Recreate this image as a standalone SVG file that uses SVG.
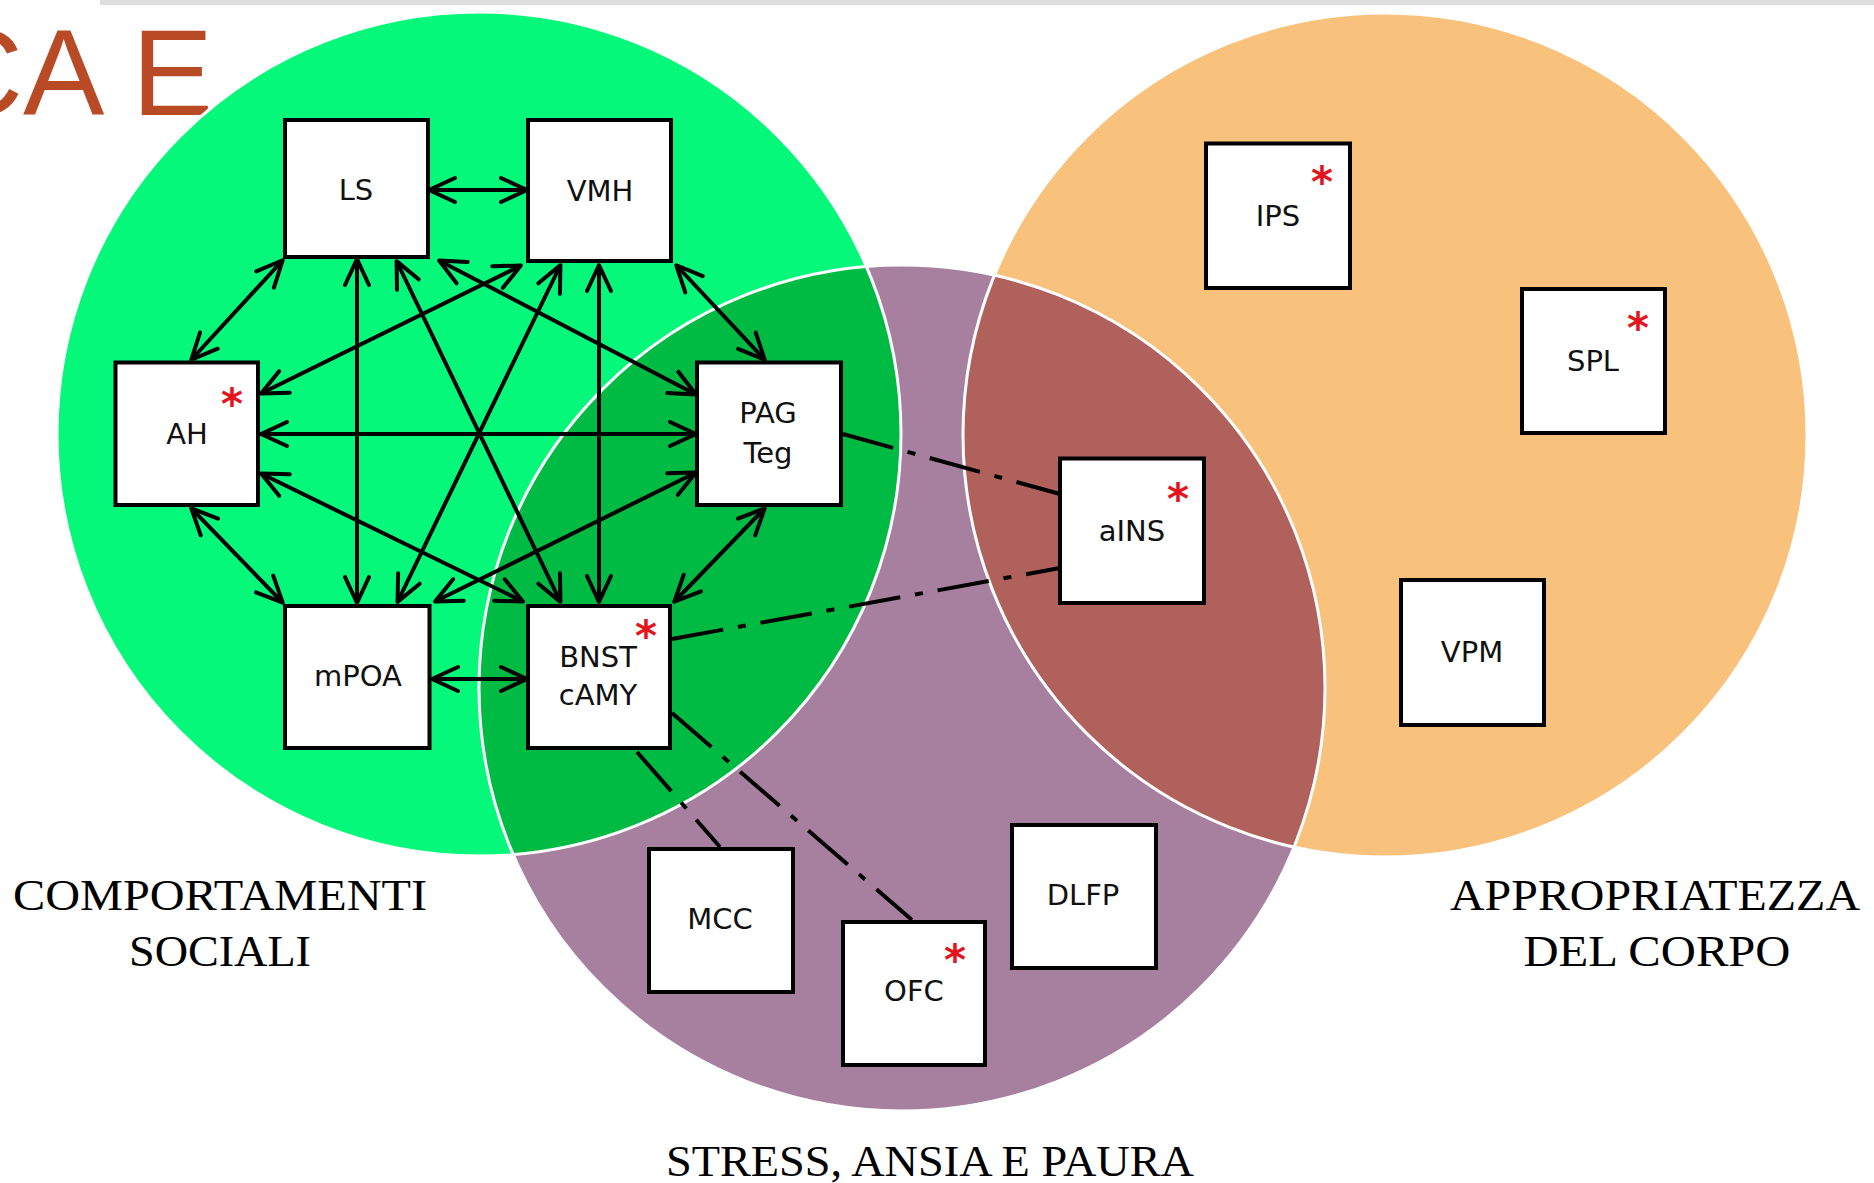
<svg xmlns="http://www.w3.org/2000/svg" width="1874" height="1183" viewBox="0 0 1874 1183">
<style>
.box{fill:#fff;stroke:#000;stroke-width:4}
.lbl{font-family:"DejaVu Sans",sans-serif;font-size:29px;fill:#111;text-anchor:middle}
.star{font-family:"DejaVu Sans",sans-serif;font-size:42px;font-weight:bold;fill:#e3141c;text-anchor:middle}
.arr{fill:none;stroke:#000;stroke-width:4;marker-start:url(#ah);marker-end:url(#ah)}
.dd{fill:none;stroke:#000;stroke-width:4;stroke-dasharray:52 15 8 15}
.cap{font-family:"Liberation Serif","Times New Roman",serif;font-size:44px;fill:#000;text-anchor:middle}
.edge{fill:none;stroke:#fff;stroke-width:3}
</style>
<defs>
<marker id="ah" markerUnits="userSpaceOnUse" viewBox="0 0 30 28" refX="26" refY="14" markerWidth="30" markerHeight="28" orient="auto-start-reverse" overflow="visible">
<path d="M1,2 L27,14 L1,26" fill="none" stroke="#000" stroke-width="4" stroke-linejoin="round" stroke-linecap="round"/>
</marker>
</defs>
<rect width="1874" height="1183" fill="#fff"/>
<rect x="100" y="0" width="1774" height="5" fill="#dedede"/>
<text x="213" y="115" font-family="Liberation Sans,Arial,sans-serif" font-size="122" fill="#b84b26" text-anchor="end">CA E</text>
<g id="regions">
<circle cx="479" cy="434" r="422" fill="#05f87a"/>
<circle cx="1385" cy="435" r="422" fill="#f8c27c"/>
<circle cx="902" cy="688" r="423" fill="#a77f9f"/>
<path d="M866.3,266.4 A422,422 0 0 1 513.1,854.6 A423,423 0 0 1 866.3,266.4 Z" fill="#00bb43"/>
<path d="M994.4,275.2 A423,423 0 0 1 1294,847 A422,422 0 0 1 994.4,275.2 Z" fill="#b0615b"/>
<circle class="edge" cx="479" cy="434" r="422"/>
<circle class="edge" cx="1385" cy="435" r="422"/>
<circle class="edge" cx="902" cy="688" r="423"/>
</g>
<g id="connectors">
<line class="arr" x1="430" y1="190" x2="526" y2="190"/>
<line class="arr" x1="282" y1="261" x2="192" y2="359"/>
<line class="arr" x1="357" y1="260" x2="357" y2="602"/>
<line class="arr" x1="397" y1="262" x2="560" y2="601"/>
<line class="arr" x1="440" y1="261" x2="695" y2="394"/>
<line class="arr" x1="520" y1="266" x2="262" y2="393"/>
<line class="arr" x1="560" y1="266" x2="398" y2="601"/>
<line class="arr" x1="599" y1="266" x2="599" y2="601"/>
<line class="arr" x1="677" y1="266" x2="764" y2="359"/>
<line class="arr" x1="262" y1="434" x2="695" y2="434"/>
<line class="arr" x1="262" y1="474" x2="522" y2="601"/>
<line class="arr" x1="192" y1="509" x2="282" y2="602"/>
<line class="arr" x1="695" y1="473" x2="436" y2="601"/>
<line class="arr" x1="764" y1="509" x2="675" y2="601"/>
<line class="arr" x1="433" y1="679" x2="526" y2="679"/>
<line class="dd" x1="843" y1="434" x2="1060" y2="494"/>
<line class="dd" x1="672" y1="639" x2="1060" y2="568"/>
<line class="dd" x1="637" y1="752" x2="720" y2="847"/>
<line class="dd" x1="672" y1="713" x2="912" y2="920"/>
</g>
<g id="LS"><rect class="box" x="285" y="120" width="143" height="137"/><text class="lbl" x="356" y="200">LS</text></g>
<g id="VMH"><rect class="box" x="528" y="120" width="143" height="141"/><text class="lbl" x="600" y="201">VMH</text></g>
<g id="AH"><rect class="box" x="115.5" y="362.5" width="142.5" height="142.5"/><text class="lbl" x="187" y="444">AH</text><text class="star" x="232" y="419">*</text></g>
<g id="PAG"><rect class="box" x="697" y="362.5" width="144" height="142.5"/><text class="lbl" x="768" y="423">PAG</text><text class="lbl" x="768" y="463">Teg</text></g>
<g id="mPOA"><rect class="box" x="285" y="606" width="144.5" height="142"/><text class="lbl" x="358" y="686">mPOA</text></g>
<g id="BNST"><rect class="box" x="528" y="606" width="142" height="142"/><text class="lbl" x="598" y="667">BNST</text><text class="lbl" x="598" y="705">cAMY</text><text class="star" x="646" y="651">*</text></g>
<g id="aINS"><rect class="box" x="1060" y="458.5" width="144" height="144.5"/><text class="lbl" x="1132" y="541">aINS</text><text class="star" x="1178" y="514">*</text></g>
<g id="IPS"><rect class="box" x="1206" y="143.5" width="144" height="144.5"/><text class="lbl" x="1278" y="226">IPS</text><text class="star" x="1322" y="197">*</text></g>
<g id="SPL"><rect class="box" x="1522" y="289" width="143" height="144"/><text class="lbl" x="1593" y="371">SPL</text><text class="star" x="1638" y="343">*</text></g>
<g id="VPM"><rect class="box" x="1401" y="580" width="143" height="145"/><text class="lbl" x="1472" y="662">VPM</text></g>
<g id="MCC"><rect class="box" x="649" y="849" width="144" height="143"/><text class="lbl" x="720" y="929">MCC</text></g>
<g id="OFC"><rect class="box" x="843" y="922" width="142" height="143"/><text class="lbl" x="914" y="1001">OFC</text><text class="star" x="955" y="975">*</text></g>
<g id="DLFP"><rect class="box" x="1012" y="825" width="144" height="143"/><text class="lbl" x="1083" y="905">DLFP</text></g>
<g id="labels">
<text class="cap" x="220" y="910" textLength="414" lengthAdjust="spacingAndGlyphs">COMPORTAMENTI</text>
<text class="cap" x="220" y="966" textLength="182" lengthAdjust="spacingAndGlyphs">SOCIALI</text>
<text class="cap" x="930" y="1176" textLength="528" lengthAdjust="spacingAndGlyphs">STRESS, ANSIA E PAURA</text>
<text class="cap" x="1655" y="910" textLength="410" lengthAdjust="spacingAndGlyphs">APPROPRIATEZZA</text>
<text class="cap" x="1657" y="966" textLength="267" lengthAdjust="spacingAndGlyphs">DEL CORPO</text>
</g>
</svg>
